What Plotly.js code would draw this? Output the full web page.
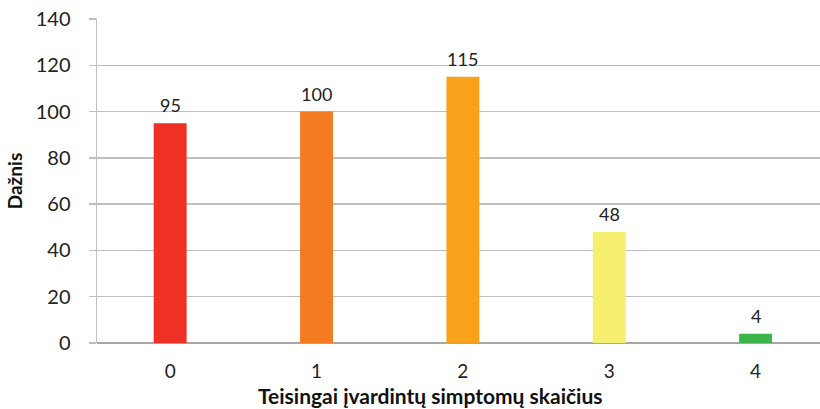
<!DOCTYPE html>
<html>
<head>
<meta charset="utf-8">
<script src="https://cdn.plot.ly/plotly-3.0.1.min.js"></script>
<style>
  html, body { margin: 0; padding: 0; background: #fff; }
  #chart { width: 820px; height: 409px; }
</style>
</head>
<body>
<div id="chart"></div>
<script>
// Number of correctly named symptoms and how often each count occurred
const categories = ['0', '1', '2', '3', '4'];
const frequencies = [95, 100, 115, 48, 4];
const barColors = ['#EE3124', '#F47B20', '#F9A11B', '#F5EE6E', '#3DB54A'];
const yTicks = [0, 20, 40, 60, 80, 100, 120, 140];
const xTitle = 'Teisingai įvardintų simptomų skaičius';
const yTitle = 'Dažnis';

const FONT = 'Lato, "Open Sans", sans-serif';

const trace = {
  type: 'bar',
  x: categories,
  y: frequencies,
  width: 0.225,
  marker: { color: barColors, line: { width: 0 } },
  hoverinfo: 'x+y'
};

// Value labels sitting above each bar
const labels = categories.map((c, i) => ({
  x: c,
  y: frequencies[i],
  xref: 'x',
  yref: 'y',
  text: String(frequencies[i]),
  showarrow: false,
  yanchor: 'bottom',
  yshift: 5,
  font: { family: FONT, size: 18, color: '#222' }
}));

// Horizontal axis title, set slightly left of the plot centre
labels.push({
  xref: 'paper',
  yref: 'paper',
  x: 0.4606,
  y: -0.1605,
  xanchor: 'center',
  yanchor: 'middle',
  text: '<b>' + xTitle + '</b>',
  showarrow: false,
  font: { family: FONT, size: 21, color: '#111' }
});

const layout = {
  width: 820,
  height: 409,
  margin: { l: 97, r: 0, t: 19, b: 66 },
  paper_bgcolor: '#fff',
  plot_bgcolor: '#fff',
  showlegend: false,
  font: { family: FONT, color: '#222' },
  xaxis: {
    type: 'category',
    range: [-0.5, 4.44],
    showgrid: false,
    showline: false,
    ticks: '',
    tickfont: { family: FONT, size: 19, color: '#222' },
    ticklabelstandoff: 15
  },
  yaxis: {
    range: [0, 140],
    tickvals: yTicks,
    ticktext: yTicks.map(String),
    showgrid: true,
    gridcolor: '#BFBFBF',
    gridwidth: 1.5,
    zeroline: true,
    zerolinecolor: '#A6A6A6',
    zerolinewidth: 1.5,
    showline: true,
    linecolor: '#BFBFBF',
    linewidth: 1.5,
    ticks: 'outside',
    ticklen: 7,
    tickwidth: 1.5,
    tickcolor: '#BFBFBF',
    tickfont: { family: FONT, size: 20, color: '#222' },
    ticklabelstandoff: 14,
    title: {
      text: yTitle,
      font: { family: FONT, size: 19, color: '#111', weight: 'bold' },
      standoff: 8
    }
  },
  annotations: labels
};

Plotly.newPlot('chart', [trace], layout, { displayModeBar: false, staticPlot: true });
</script>
</body>
</html>
